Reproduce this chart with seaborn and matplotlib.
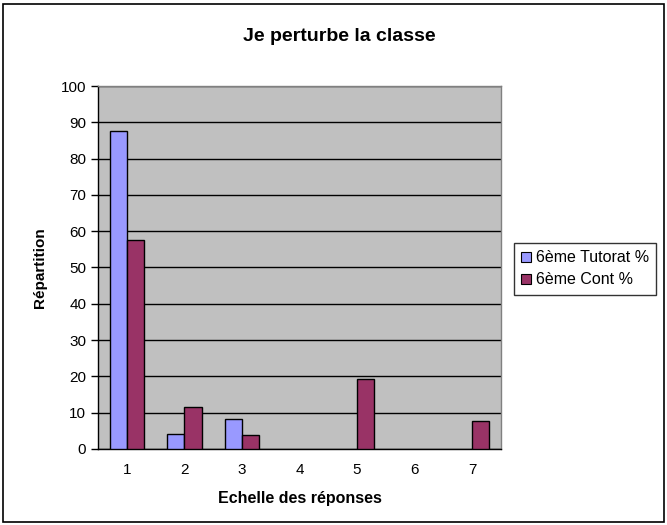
import numpy as np
import pandas as pd
import matplotlib
matplotlib.use("Agg")
import matplotlib.pyplot as plt
from matplotlib.patches import Rectangle
import seaborn as sns

# Données
categories = ["1", "2", "3", "4", "5", "6", "7"]
tutorat = [87.5, 4.2, 8.3, 0, 0, 0, 0]
cont = [57.7, 11.5, 3.8, 0, 19.2, 0, 7.7]
series = ["6ème Tutorat %", "6ème Cont %"]

df = pd.DataFrame({
    "Echelle": categories * 2,
    "Valeur": tutorat + cont,
    "Serie": [series[0]] * len(categories) + [series[1]] * len(categories),
})

sns.set_style("white")
plt.rcParams["font.family"] = ["Liberation Sans", "DejaVu Sans"]
plt.rcParams["text.color"] = "black"
plt.rcParams["axes.labelcolor"] = "black"
plt.rcParams["xtick.color"] = "black"
plt.rcParams["ytick.color"] = "black"

fig = plt.figure(figsize=(6.67, 5.25), dpi=100)
ax = fig.add_axes([0.147, 0.145, 0.604, 0.691])

sns.barplot(data=df, x="Echelle", y="Valeur", hue="Serie", order=categories,
            hue_order=series, palette=["#9999FF", "#993366"], width=0.6,
            edgecolor="black", linewidth=1, saturation=1, ax=ax, zorder=3)

# pas de contour pour les barres à zéro (comme Excel)
for p in ax.patches:
    if p.get_height() == 0:
        p.set_linewidth(0)

ax.set_facecolor("#C0C0C0")
ax.set_ylim(0, 100)
ax.set_xlim(-0.5, 6.5)
ax.set_yticks(range(0, 101, 10))
ax.yaxis.grid(True, color="black", linewidth=1)
ax.set_axisbelow(True)

# ticks aux frontières des catégories
ax.set_xticks(np.arange(-0.5, 7, 1), minor=True)
ax.tick_params(axis="x", which="major", length=0, labelsize=11, pad=10)
ax.tick_params(axis="x", which="minor", length=5, width=1, color="black", direction="out")
ax.tick_params(axis="y", length=5, width=1, color="black", direction="out", labelsize=11, left=True)

for s in ["left", "bottom"]:
    ax.spines[s].set_color("black")
    ax.spines[s].set_linewidth(1)
for s in ["top", "right"]:
    ax.spines[s].set_color("#808080")
    ax.spines[s].set_linewidth(1)

ax.set_xlabel("Echelle des réponses", fontsize=11.5, fontweight="bold", labelpad=10)
ax.set_ylabel("Répartition", fontsize=11, fontweight="bold", labelpad=10)
fig.text(0.508, 0.93, "Je perturbe la classe", ha="center", va="center",
         fontsize=14, fontweight="bold")

leg = ax.legend(loc="center left", bbox_to_anchor=(0.771, 0.488), bbox_transform=fig.transFigure,
                frameon=True, fancybox=False, fontsize=11.5, handlelength=0.6, handleheight=0.6,
                handletextpad=0.3, borderpad=0.45, labelspacing=0.45, borderaxespad=0)
leg.get_frame().set_edgecolor("black")
leg.get_frame().set_linewidth(1)
for h in leg.legend_handles:
    h.set_edgecolor("black")
    h.set_linewidth(0.8)

fig.patches.append(Rectangle((0.004, 0.006), 0.992, 0.986, transform=fig.transFigure,
                             fill=False, edgecolor="black", linewidth=1.2))

fig.savefig("out.png", dpi=100)
